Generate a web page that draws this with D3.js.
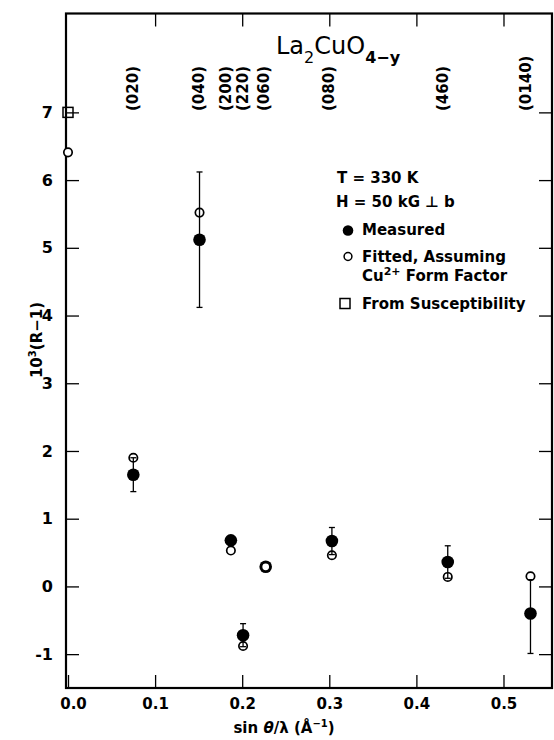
<!DOCTYPE html>
<html>
<head>
<meta charset="utf-8">
<script src="https://cdn.jsdelivr.net/npm/d3@7"></script>
<style>
  body { margin: 0; background: #fff; }
  svg { display: block; }
  text { fill: #000; font-family: "DejaVu Sans", sans-serif; }
  .tick line { stroke: #000; stroke-width: 1.3; }
  .tick text { font-weight: bold; font-size: 15px; }
</style>
</head>
<body>
<script>
// reflections and their positions (sin theta / lambda, 1/A)
const reflections = ["(020)", "(040)", "(200)", "(220)", "(060)", "(080)", "(460)", "(0140)"];
const labelPos = [0.074, 0.150, 0.181, 0.200, 0.224, 0.299, 0.430, 0.525];
const sinThetaOverLambda = [0.075, 0.151, 0.187, 0.201, 0.227, 0.303, 0.436, 0.531];

// 10^3 (R-1)
const measured = [1.65, 5.12, 0.68, -0.72, 0.29, 0.67, 0.36, -0.40];
const errUp = [0.25, 1.0, 0, 0.17, 0, 0.20, 0.24, 0.50];
const errDown = [0.25, 1.0, 0, 0.17, 0, 0.20, 0.24, 0.59];
const fitted = [1.90, 5.52, 0.53, -0.88, 0.29, 0.46, 0.14, 0.15];

// forward scattering point
const fittedZero = { x: 0, y: 6.41 };
const susceptibility = { x: 0, y: 7.0 };

const xTicks = [0, 0.1, 0.2, 0.3, 0.4, 0.5];
const yTicks = [-1, 0, 1, 2, 3, 4, 5, 6, 7];

const W = 554, H = 740;
const mLeft = 66, mRight = 552, mTop = 13.5, mBottom = 688;

const svg = d3.select("body").append("svg").attr("width", W).attr("height", H);

const x = d3.scaleLinear().domain([-0.0023, 0.5557]).range([mLeft, mRight]);
const y = d3.scaleLinear().domain([-1.5, 8.46]).range([mBottom, mTop]);

// axes, ticks pointing inward on all four sides
svg.append("g").attr("transform", `translate(0,${mBottom})`)
  .call(d3.axisBottom(x).tickValues(xTicks).tickSize(-13).tickPadding(10.5).tickFormat(d3.format(".1f")))
  .call(g => g.select(".domain").remove())
  .call(g => g.selectAll(".tick text").filter(d => d === 0).attr("dx", 5));

svg.append("g").attr("transform", `translate(0,${mTop})`)
  .call(d3.axisTop(x).tickValues(xTicks.slice(1)).tickSize(-13).tickFormat(""))
  .call(g => g.select(".domain").remove());

svg.append("g").attr("transform", `translate(${mLeft},0)`)
  .call(d3.axisLeft(y).tickValues(yTicks).tickSize(-13).tickPadding(13).tickFormat(d3.format("d")))
  .call(g => g.select(".domain").remove())
  .call(g => g.selectAll(".tick text").style("font-size", "16px").text(d => d < 0 ? "-" + Math.abs(d) : d));

svg.append("g").attr("transform", `translate(${mRight},0)`)
  .call(d3.axisRight(y).tickValues(yTicks).tickSize(-13).tickFormat(""))
  .call(g => g.select(".domain").remove());

svg.append("rect")
  .attr("x", mLeft).attr("y", mTop)
  .attr("width", mRight - mLeft).attr("height", mBottom - mTop)
  .attr("fill", "none").attr("stroke", "#000").attr("stroke-width", 2.2);

// axis titles
const xt = svg.append("text").attr("x", 284).attr("y", 733)
  .attr("text-anchor", "middle").style("font-size", "15px").style("font-weight", "bold");
xt.append("tspan").text("sin ");
xt.append("tspan").style("font-style", "italic").text("θ");
xt.append("tspan").text("/λ (Å");
xt.append("tspan").attr("dy", -6).style("font-size", "10px").text("−1");
xt.append("tspan").attr("dy", 6).text(")");

const yt = svg.append("text")
  .attr("transform", "translate(42,340) rotate(-90)")
  .attr("text-anchor", "middle").style("font-size", "15px").style("font-weight", "bold");
yt.append("tspan").text("10");
yt.append("tspan").attr("dy", -6).style("font-size", "10px").text("3");
yt.append("tspan").attr("dy", 6).text("(R−1)");

// compound title
const title = svg.append("text").attr("x", 276).attr("y", 53.5).style("font-size", "24px");
title.append("tspan").text("La");
title.append("tspan").attr("dy", 9).style("font-size", "16px").text("2");
title.append("tspan").attr("dy", -9).text("CuO");
title.append("tspan").attr("dy", 9).style("font-size", "16px").style("font-weight", "bold").text("4−y");

// reflection labels, rotated
svg.append("g").selectAll("text").data(reflections).join("text")
  .attr("transform", (d, i) => `translate(${x(labelPos[i])},111) rotate(-90)`)
  .attr("dy", "0.36em")
  .style("font-size", "15px").style("font-weight", "bold")
  .text(d => d);

// data
const pts = reflections.map((r, i) => ({
  x: sinThetaOverLambda[i], m: measured[i], up: errUp[i], dn: errDown[i], f: fitted[i]
}));

const marks = svg.append("g");

marks.selectAll("circle.meas").data(pts).join("circle")
  .attr("class", "meas")
  .attr("cx", d => x(d.x)).attr("cy", d => y(d.m)).attr("r", 6.3)
  .attr("fill", "#000");

marks.selectAll("circle.fit").data(pts.concat([{ x: fittedZero.x, f: fittedZero.y }])).join("circle")
  .attr("class", "fit")
  .attr("cx", d => x(d.x)).attr("cy", d => y(d.f)).attr("r", 4.2)
  .attr("fill", "#fff").attr("stroke", "#000").attr("stroke-width", 1.7);

const bars = marks.selectAll("g.err").data(pts.filter(d => d.up > 0)).join("g").attr("class", "err")
  .attr("stroke", "#000").attr("stroke-width", 1.3);
bars.append("line")
  .attr("x1", d => x(d.x)).attr("x2", d => x(d.x))
  .attr("y1", d => y(d.m + d.up)).attr("y2", d => y(d.m - d.dn));
bars.append("line")
  .attr("x1", d => x(d.x) - 3).attr("x2", d => x(d.x) + 3)
  .attr("y1", d => y(d.m + d.up)).attr("y2", d => y(d.m + d.up));
bars.append("line")
  .attr("x1", d => x(d.x) - 3).attr("x2", d => x(d.x) + 3)
  .attr("y1", d => y(d.m - d.dn)).attr("y2", d => y(d.m - d.dn));

marks.append("rect")
  .attr("x", x(susceptibility.x) - 5).attr("y", y(susceptibility.y) - 5)
  .attr("width", 10).attr("height", 10)
  .attr("fill", "none").attr("stroke", "#000").attr("stroke-width", 1.5);

// legend
const lg = svg.append("g").style("font-size", "15px").style("font-weight", "bold");
lg.append("text").attr("x", 337).attr("y", 182.5).text("T = 330 K");
lg.append("text").attr("x", 336).attr("y", 206.5).text("H = 50 kG ⊥ b");
lg.append("circle").attr("cx", 348).attr("cy", 230.5).attr("r", 5.3).attr("fill", "#000");
lg.append("text").attr("x", 362).attr("y", 235).text("Measured");
lg.append("circle").attr("cx", 348).attr("cy", 256.5).attr("r", 3.9)
  .attr("fill", "none").attr("stroke", "#000").attr("stroke-width", 1.5);
lg.append("text").attr("x", 362).attr("y", 261.5).text("Fitted, Assuming");
const cu = lg.append("text").attr("x", 362).attr("y", 281);
cu.append("tspan").text("Cu");
cu.append("tspan").attr("dy", -6).style("font-size", "11px").text("2+");
cu.append("tspan").attr("dy", 6).text(" Form Factor");
lg.append("rect").attr("x", 340).attr("y", 298.5).attr("width", 10).attr("height", 10)
  .attr("fill", "none").attr("stroke", "#000").attr("stroke-width", 1.5);
lg.append("text").attr("x", 362).attr("y", 309).text("From Susceptibility");
</script>
</body>
</html>
